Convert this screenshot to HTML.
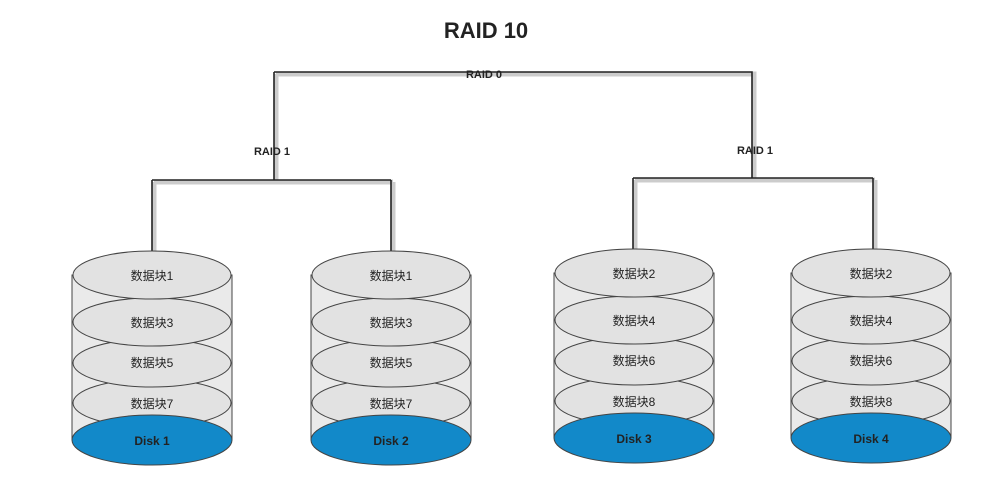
<!DOCTYPE html>
<html><head><meta charset="utf-8"><style>body{margin:0;background:#fff}svg{display:block}</style></head><body>
<svg width="1004" height="493" viewBox="0 0 1004 493" xmlns="http://www.w3.org/2000/svg" font-family="Liberation Sans, Noto Sans CJK SC, sans-serif">
<text x="486" y="38" font-size="22" font-weight="bold" text-anchor="middle" fill="#222">RAID 10</text>
<g stroke="#ccc" stroke-width="5" fill="none">
<path d="M276 74H754V180M276 74V182M154 182H393M154 182V255M393 182V255M635 180H875M635 180V252M875 180V252"/>
</g>
<g stroke="#222" stroke-width="1.6" fill="none">
<path d="M274 72H752V178M274 72V180M152 180H391M152 180V255M391 180V255M633 178H873M633 178V252M873 178V252"/>
</g>
<rect x="460" y="66" width="48" height="13" fill="#fff" opacity="0"/>
<text x="484" y="78" font-size="11" font-weight="bold" text-anchor="middle" fill="#222">RAID 0</text>
<text x="272" y="155" font-size="11" font-weight="bold" text-anchor="middle" fill="#222">RAID 1</text>
<text x="755" y="154" font-size="11" font-weight="bold" text-anchor="middle" fill="#222">RAID 1</text>
<defs>
<g id="cyl">
<rect x="-80" y="0" width="160" height="165" fill="#eaeaea" stroke="#444" stroke-width="1"/>
<ellipse cx="0" cy="128" rx="79" ry="24" fill="#e2e2e2" stroke="#444"/>
<ellipse cx="0" cy="88" rx="79" ry="24" fill="#e2e2e2" stroke="#444"/>
<ellipse cx="0" cy="47" rx="79" ry="24" fill="#e2e2e2" stroke="#444"/>
<ellipse cx="0" cy="0" rx="79" ry="24" fill="#e2e2e2" stroke="#444"/>
<ellipse cx="0" cy="165" rx="80" ry="25" fill="#1289c9" stroke="#444"/>
</g>
</defs>
<g font-size="12" text-anchor="middle" fill="#222">
<use href="#cyl" x="152" y="275"/>
<text x="152" y="280">数据块1</text><text x="152" y="327">数据块3</text><text x="152" y="367">数据块5</text><text x="152" y="408">数据块7</text><text x="152" y="445" font-weight="bold">Disk  1</text>
<use href="#cyl" x="391" y="275"/>
<text x="391" y="280">数据块1</text><text x="391" y="327">数据块3</text><text x="391" y="367">数据块5</text><text x="391" y="408">数据块7</text><text x="391" y="445" font-weight="bold">Disk  2</text>
<use href="#cyl" x="634" y="273"/>
<text x="634" y="278">数据块2</text><text x="634" y="325">数据块4</text><text x="634" y="365">数据块6</text><text x="634" y="406">数据块8</text><text x="634" y="443" font-weight="bold">Disk 3</text>
<use href="#cyl" x="871" y="273"/>
<text x="871" y="278">数据块2</text><text x="871" y="325">数据块4</text><text x="871" y="365">数据块6</text><text x="871" y="406">数据块8</text><text x="871" y="443" font-weight="bold">Disk 4</text>
</g>
</svg>
</body></html>
